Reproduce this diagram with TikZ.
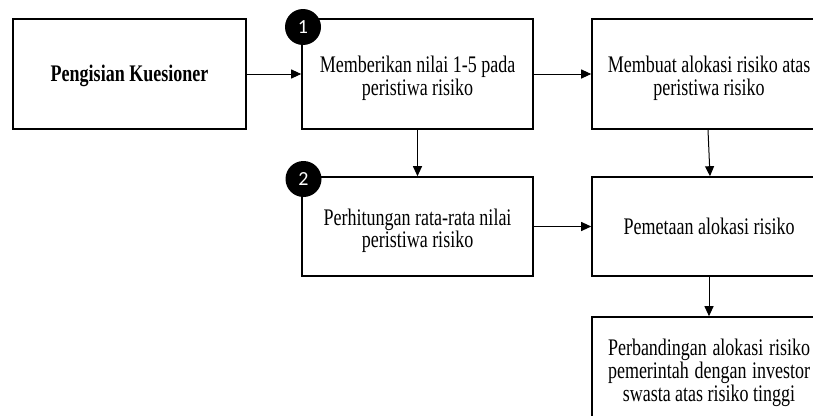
\documentclass[tikz,border=0pt]{standalone}
\usepackage{graphicx}
\usepackage{fontspec}
\setmainfont{Liberation Serif}
\newfontfamily\numfont{Carlito}
\usetikzlibrary{arrows.meta}
\newcommand\vtxt[2][5pt]{\raisebox{-#1}[\height][\depth]{\scalebox{1}[1.32]{\begin{tabular}{@{}c@{}}#2\end{tabular}}}}
\begin{document}
\begin{tikzpicture}[x=1pt,y=-1pt,
  box/.style={draw=black,line width=1.6pt,rectangle,inner sep=0pt,align=center,
    font=\fontsize{18}{16}\selectfont},
  conn/.style={line width=1pt,-{Triangle[length=10pt,width=9pt]}},
  badge/.style={circle,fill=black,text=white,minimum size=36pt,inner sep=0pt,
    font=\numfont\fontsize{20}{20}\selectfont}]
\useasboundingbox (0,0) rectangle (813,415);
\clip (0,0) rectangle (813,415);
\node[box,minimum width=233pt,minimum height=110pt] (A) at (129.5,74) {\vtxt[2.5pt]{\textbf{Pengisian Kuesioner}}};
\node[box,minimum width=231pt,minimum height=110pt] (B) at (417.5,74) {\vtxt{Memberikan nilai 1-5 pada\\peristiwa risiko}};
\node[box,minimum width=234pt,minimum height=110pt] (C) at (709,74) {\vtxt{Membuat alokasi risiko atas\\peristiwa risiko}};
\node[box,minimum width=231pt,minimum height=99pt] (D) at (417.5,226.5) {\vtxt{Perhitungan rata-rata nilai\\peristiwa risiko}};
\node[box,minimum width=234pt,minimum height=99pt] (E) at (709,226.5) {\vtxt[2.5pt]{Pemetaan alokasi risiko}};
\node[box,minimum width=234pt,minimum height=103pt] (F) at (709,368.5) {\vtxt{\makebox[202pt][s]{Perbandingan alokasi risiko}\\\makebox[202pt][s]{pemerintah dengan investor}\\swasta atas risiko tinggi}};
\node[badge] (n1) at (303,27) {1};
\node[badge] (n2) at (303.5,179) {2};
\draw[conn] (A.east) -- (B.west);
\draw[conn] (B.east) -- (C.west);
\draw[conn] (B.south) -- (D.north);
\draw[conn] ([xshift=-1pt]C.south) -- ([xshift=1pt]E.north);
\draw[conn] (D.east) -- (E.west);
\draw[conn] (E.south) -- (F.north);
\end{tikzpicture}
\end{document}
